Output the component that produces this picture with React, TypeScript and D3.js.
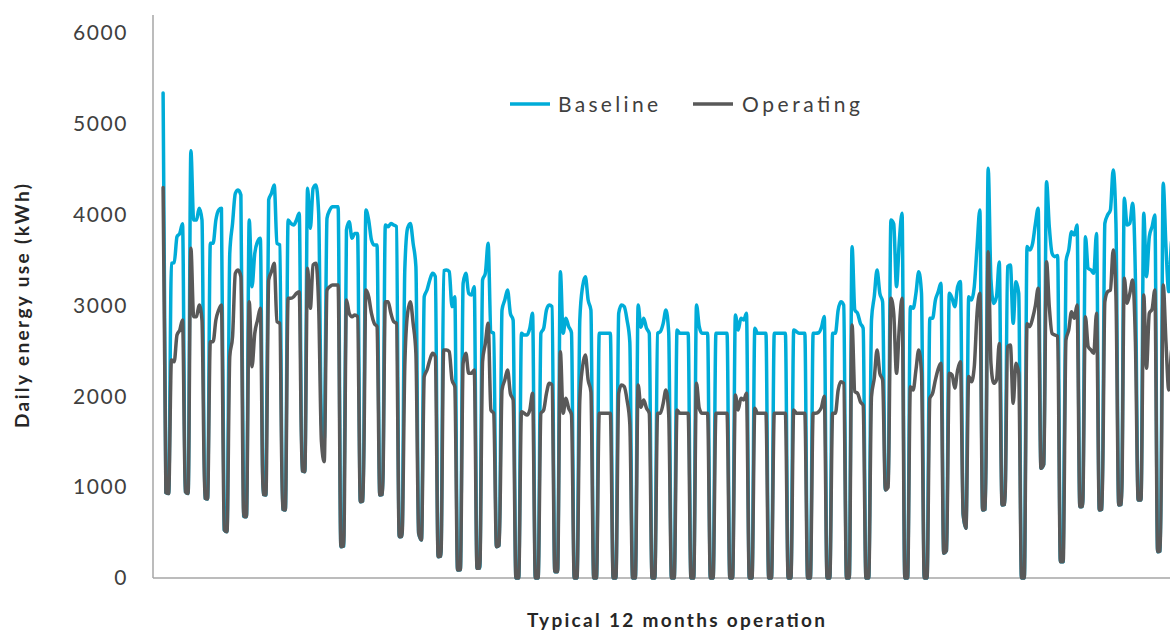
import React, { useEffect, useRef } from 'react';
import * as d3 from 'd3';

// Daily energy use (kWh), one row per 7 days (days 7k..7k+6); the dips are weekends
const baseline: number[] = [
  5340, 940, 930, 3464, 3471, 3757, 3794,
  3900, 950, 930, 4705, 3941, 3941, 4070,
  3941, 880, 870, 3684, 3684, 3941, 4051,
  4070, 530, 510, 3574, 3904, 4235, 4271,
  4216, 680, 675, 3941, 3207, 3574, 3703,
  3740, 920, 914, 4162, 4235, 4327, 3684,
  3666, 760, 749, 3941, 3904, 3886, 3941,
  4015, 1180, 1171, 4290, 3850, 4290, 4327,
  4015, 1700, 1519, 3960, 4051, 4088, 4088,
  4088, 345, 350, 3831, 3923, 3740, 3794,
  3794, 840, 850, 4051, 3941, 3721, 3666,
  3666, 914, 920, 3886, 3868, 3904, 3886,
  3868, 455, 460, 3391, 3850, 3904, 3684,
  3427, 490, 418, 3097, 3170, 3281, 3354,
  3317, 235, 240, 3383, 3391, 3372, 2987,
  3097, 88, 90, 3244, 3354, 3134, 3115,
  3207, 106, 110, 3281, 3354, 3684, 2712,
  2694, 345, 360, 2950, 3060, 3170, 2914,
  2840, 0, 0, 2694, 2675, 2675, 2750,
  2914, 0, 0, 2694, 2749, 2950, 3005,
  2987, 70, 70, 3372, 2694, 2859, 2767,
  2700, 0, 0, 2840, 3207, 3317, 3060,
  2950, 0, 0, 2694, 2694, 2694, 2694,
  2694, 0, 0, 2914, 3005, 2987, 2840,
  2600, 0, 0, 3005, 2760, 2860, 2750,
  2694, 0, 0, 2694, 2712, 2800, 2950,
  2700, 0, 0, 2730, 2694, 2694, 2694,
  2694, 0, 0, 3005, 2767, 2694, 2694,
  2694, 0, 0, 2694, 2694, 2694, 2694,
  2694, 0, 0, 2895, 2730, 2860, 2840,
  2914, 0, 0, 2749, 2694, 2694, 2694,
  2694, 0, 0, 2694, 2694, 2694, 2694,
  2694, 0, 0, 2730, 2712, 2694, 2694,
  2694, 0, 0, 2694, 2694, 2700, 2760,
  2880, 0, 0, 2694, 2694, 2950, 3042,
  3005, 0, 0, 3648, 2950, 2914, 2804,
  2750, 0, 0, 2840, 3100, 3391, 3134,
  3042, 970, 1100, 3941, 3900, 3207, 3700,
  4015, 0, 0, 2987, 2969, 3134, 3372,
  3134, 0, 0, 2860, 2860, 3060, 3150,
  3244, 272, 300, 3134, 3080, 2987, 3207,
  3264, 700, 547, 3097, 3060, 3207, 3648,
  4051, 749, 760, 4510, 3281, 3023, 3097,
  3480, 804, 810, 3427, 3446, 2804, 3262,
  3134, 0, 0, 3650, 3611, 3684, 3900,
  4070, 1207, 1250, 4363, 3868, 3574, 3538,
  3550, 180, 180, 3483, 3611, 3813, 3776,
  3886, 785, 790, 3757, 3409, 3391, 3354,
  3794, 749, 760, 3904, 3996, 4051, 4491,
  3900, 804, 810, 4180, 3886, 3904, 4125,
  3300, 859, 860, 4015, 3317, 3757, 3868,
  3996, 290, 300, 4345, 3648, 3153, 3700,
  3800,
];

const operating: number[] = [
  4300, 940, 930, 2400, 2380, 2675, 2730,
  2840, 950, 930, 3629, 2877, 2877, 3005,
  2840, 880, 870, 2602, 2602, 2840, 2950,
  3005, 530, 510, 2437, 2657, 3354, 3390,
  3317, 680, 675, 3042, 2327, 2694, 2840,
  2969, 920, 914, 3281, 3372, 3464, 2822,
  2804, 760, 749, 3079, 3079, 3097, 3134,
  3152, 1180, 1171, 3409, 2969, 3446, 3464,
  2987, 1500, 1281, 3170, 3207, 3226, 3226,
  3226, 345, 350, 3060, 2914, 2877, 2895,
  2877, 840, 850, 3170, 3097, 2914, 2804,
  2767, 914, 920, 3042, 3042, 2914, 2822,
  2804, 455, 460, 2327, 2914, 3042, 2804,
  2473, 490, 418, 2217, 2290, 2400, 2473,
  2437, 235, 240, 2510, 2510, 2492, 2180,
  2106, 88, 90, 2363, 2473, 2253, 2253,
  2290, 106, 110, 2382, 2583, 2804, 1850,
  1813, 345, 360, 2070, 2180, 2290, 2033,
  1960, 0, 0, 1831, 1813, 1794, 1850,
  2033, 0, 0, 1813, 1850, 2033, 2143,
  2125, 70, 70, 2492, 1813, 1978, 1868,
  1800, 0, 0, 1960, 2327, 2455, 2180,
  2051, 0, 0, 1813, 1813, 1813, 1813,
  1813, 0, 0, 2033, 2125, 2106, 1960,
  1700, 0, 0, 2125, 1880, 1960, 1870,
  1813, 0, 0, 1813, 1813, 1920, 2070,
  1800, 0, 0, 1850, 1813, 1813, 1813,
  1813, 0, 0, 2143, 1868, 1813, 1813,
  1813, 0, 0, 1813, 1813, 1813, 1813,
  1813, 0, 0, 2015, 1850, 1980, 1960,
  2033, 0, 0, 1868, 1813, 1813, 1813,
  1813, 0, 0, 1813, 1813, 1813, 1813,
  1813, 0, 0, 1850, 1813, 1813, 1813,
  1813, 0, 0, 1813, 1813, 1830, 1880,
  2000, 0, 0, 1813, 1813, 2070, 2160,
  2143, 0, 0, 2785, 2051, 2033, 1941,
  1900, 0, 0, 1996, 2200, 2510, 2253,
  2180, 970, 1000, 3079, 2914, 2253, 2750,
  3079, 0, 0, 2106, 2070, 2290, 2510,
  2253, 0, 0, 1978, 2033, 2180, 2300,
  2363, 272, 300, 2253, 2235, 2090, 2290,
  2382, 700, 547, 2217, 2161, 2327, 2914,
  3134, 749, 760, 3593, 2363, 2143, 2180,
  2583, 804, 810, 2547, 2565, 1923, 2363,
  2253, 0, 0, 2800, 2767, 2860, 3000,
  3189, 1207, 1250, 3483, 2987, 2694, 2675,
  2660, 180, 180, 2620, 2730, 2932, 2859,
  3005, 785, 790, 2877, 2547, 2510, 2473,
  2914, 749, 760, 3042, 3152, 3170, 3611,
  3100, 804, 810, 3299, 3024, 3134, 3281,
  2600, 859, 860, 3115, 2308, 2914, 2960,
  3170, 290, 300, 3226, 2600, 2070, 2500,
  2600,
];

const yTicks = [0, 1000, 2000, 3000, 4000, 5000, 6000];
const seriesNames = ['Baseline', 'Operating'];
const seriesColors = ['#00acd8', '#595959'];

const FONT = 'Lato, "Open Sans", sans-serif';

export default function App() {
  const svgRef = useRef<SVGSVGElement>(null);

  useEffect(() => {
    if (!svgRef.current) return;
    const svg = d3.select(svgRef.current);
    svg.selectAll('*').remove();

    const width = 1170;
    const x = d3.scaleLinear().domain([0, 364]).range([163.1, 1174.3]);
    const y = d3.scaleLinear().domain([0, 6000]).range([578, 33]);
    const axisX = 153;

    svg.append('defs')
      .append('clipPath')
      .attr('id', 'plot-clip')
      .append('rect')
      .attr('x', axisX + 1)
      .attr('y', 0)
      .attr('width', width - axisX)
      .attr('height', 600);

    // axis lines
    svg.append('line')
      .attr('x1', axisX).attr('x2', axisX)
      .attr('y1', 15).attr('y2', y(0))
      .attr('stroke', '#a6a6a6').attr('stroke-width', 1.5);
    svg.append('line')
      .attr('x1', axisX).attr('x2', width)
      .attr('y1', y(0)).attr('y2', y(0))
      .attr('stroke', '#a6a6a6').attr('stroke-width', 1.5);

    // y tick labels
    const yAxis = svg.append('g')
      .attr('transform', `translate(${axisX},0)`)
      .call(d3.axisLeft(y).tickValues(yTicks).tickSize(0).tickPadding(25).tickFormat(d3.format('d')));
    yAxis.select('.domain').remove();
    yAxis.selectAll('text')
      .attr('font-family', FONT)
      .attr('font-size', 21)
      .attr('letter-spacing', 1.6)
      .attr('fill', '#404040');

    // series, smoothed like the source chart
    const line = d3.line<number>()
      .x((_, i) => x(i))
      .y(d => y(d))
      .curve(d3.curveMonotoneX);

    const plot = svg.append('g').attr('clip-path', 'url(#plot-clip)');
    [baseline, operating].forEach((data, k) => {
      plot.append('path')
        .datum(data)
        .attr('d', line)
        .attr('fill', 'none')
        .attr('stroke', seriesColors[k])
        .attr('stroke-width', 3.5)
        .attr('stroke-linejoin', 'round')
        .attr('stroke-linecap', 'round');
    });

    // legend
    const legendItems = [
      { x1: 510, tx: 558, len: 100 },
      { x1: 693, tx: 742, len: 118 },
    ];
    legendItems.forEach((it, k) => {
      svg.append('line')
        .attr('x1', it.x1).attr('x2', it.x1 + 40)
        .attr('y1', 104).attr('y2', 104)
        .attr('stroke', seriesColors[k]).attr('stroke-width', 3.5);
      svg.append('text')
        .attr('x', it.tx).attr('y', 112)
        .attr('font-family', FONT)
        .attr('font-size', 21)
        .attr('fill', '#404040')
        .attr('textLength', it.len)
        .attr('lengthAdjust', 'spacing')
        .text(seriesNames[k]);
    });

    // axis titles
    svg.append('text')
      .attr('transform', 'translate(29,306) rotate(-90)')
      .attr('text-anchor', 'middle')
      .attr('font-family', FONT)
      .attr('font-weight', 700)
      .attr('font-size', 19)
      .attr('fill', '#262626')
      .attr('textLength', 244)
      .attr('lengthAdjust', 'spacing')
      .text('Daily energy use (kWh)');

    svg.append('text')
      .attr('x', 676).attr('y', 627)
      .attr('text-anchor', 'middle')
      .attr('font-family', FONT)
      .attr('font-weight', 700)
      .attr('font-size', 19)
      .attr('fill', '#262626')
      .attr('textLength', 298)
      .attr('lengthAdjust', 'spacing')
      .text('Typical 12 months operation');
  }, []);

  return (
    <div style={{ position: 'absolute', left: 0, top: 0 }}>
      <svg ref={svgRef} width={1170} height={631} style={{ display: 'block', background: '#ffffff' }} />
    </div>
  );
}
